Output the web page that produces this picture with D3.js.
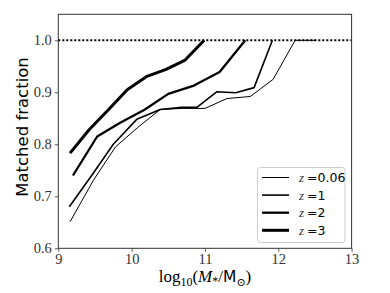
<!DOCTYPE html>
<html><head><meta charset="utf-8">
<script src="https://cdn.jsdelivr.net/npm/d3@7"></script>
<style>body{margin:0;background:#fff}svg{display:block}</style>
</head><body>
<svg id="c" width="390" height="293"></svg>
<script>
// Data
const seriesLabels = ["0.06", "1", "2", "3"];
const xTicks = [9, 10, 11, 12, 13];
const yTicks = [0.6, 0.7, 0.8, 0.9, 1.0];
const x_z006 = [9.16, 9.48, 9.78, 10.08, 10.39, 10.70, 11.00, 11.30, 11.62, 11.93, 12.23, 12.52];
const y_z006 = [0.651, 0.731, 0.795, 0.832, 0.867, 0.869, 0.869, 0.888, 0.892, 0.925, 1.0, 1.0];
const x_z1 = [9.15, 9.46, 9.75, 10.07, 10.39, 10.68, 10.89, 11.16, 11.42, 11.67, 11.92];
const y_z1 = [0.680, 0.741, 0.800, 0.848, 0.867, 0.871, 0.871, 0.901, 0.899, 0.909, 1.0];
const x_z2 = [9.20, 9.53, 9.85, 10.17, 10.50, 10.85, 11.20, 11.55];
const y_z2 = [0.740, 0.815, 0.842, 0.866, 0.897, 0.913, 0.939, 1.0];
const x_z3 = [9.16, 9.42, 9.68, 9.94, 10.20, 10.47, 10.73, 10.99];
const y_z3 = [0.783, 0.828, 0.866, 0.905, 0.930, 0.944, 0.962, 1.0];
const refLine = 1.0;

const xs = [x_z006, x_z1, x_z2, x_z3];
const ys = [y_z006, y_z1, y_z2, y_z3];
const widths = [1.0, 1.6, 2.3, 3.0];

const svg = d3.select("#c");
const L = 58.3, R = 351.6, T = 14.3, B = 248.3;
const x = d3.scaleLinear().domain([9, 13]).range([L, R]);
const y = d3.scaleLinear().domain([0.6, 1.05]).range([B, T]);

const serif = "'Liberation Serif','DejaVu Serif',serif";
const sans = "'DejaVu Sans','Noto Sans',sans-serif";

// axes
const xa = svg.append("g").attr("transform", `translate(0,${B})`)
  .call(d3.axisBottom(x).tickValues(xTicks).tickFormat(d3.format("d")).tickSize(3.5).tickSizeOuter(0).tickPadding(1.5));
const ya = svg.append("g").attr("transform", `translate(${L},0)`)
  .call(d3.axisLeft(y).tickValues(yTicks).tickFormat(d3.format(".1f")).tickSize(3.5).tickSizeOuter(0).tickPadding(3));
[xa, ya].forEach(g => {
  g.select(".domain").remove();
  g.selectAll("line").attr("stroke", "#333").attr("stroke-width", 0.8);
  g.selectAll("text").attr("font-family", serif).attr("font-size", 14.5).attr("fill", "#333");
});

// reference line
svg.append("line").attr("x1", x(9)).attr("x2", x(13)).attr("y1", y(refLine)).attr("y2", y(refLine))
  .attr("stroke", "#000").attr("stroke-width", 2).attr("stroke-dasharray", "2,2");

// series
const line = d3.line().x(d => x(d[0])).y(d => y(d[1]));
xs.forEach((xv, i) => {
  const pts = xv.map((v, j) => [v, ys[i][j]]);
  svg.append("path").datum(pts).attr("d", line).attr("fill", "none")
    .attr("stroke", "#000").attr("stroke-width", widths[i]).attr("stroke-linejoin", "round");
});

// frame
svg.append("rect").attr("x", L).attr("y", T).attr("width", R - L).attr("height", B - T)
  .attr("fill", "none").attr("stroke", "#333").attr("stroke-width", 1);

// legend
const lg = svg.append("g");
lg.append("rect").attr("x", 257.5).attr("y", 167.5).attr("width", 87.5).attr("height", 75).attr("rx", 3)
  .attr("fill", "#fff").attr("fill-opacity", 0.8).attr("stroke", "#ccc").attr("stroke-width", 1);
seriesLabels.forEach((lab, i) => {
  const yy = 177.5 + i * 17.6;
  lg.append("line").attr("x1", 262).attr("x2", 289).attr("y1", yy).attr("y2", yy)
    .attr("stroke", "#000").attr("stroke-width", widths[i]);
  const t = lg.append("text").attr("x", 299).attr("y", yy + 4.5).attr("font-size", 13);
  t.append("tspan").attr("font-family", serif).attr("font-style", "italic").attr("font-size", 13).attr("fill", "#333").text("z");
  t.append("tspan").attr("font-family", sans).attr("font-size", 12.5).attr("dx", 3).text("=" + lab);
});

// y label
svg.append("text").attr("transform", `translate(28,127) rotate(-90)`).attr("text-anchor", "middle")
  .attr("font-family", sans).attr("font-size", 16.5).text("Matched fraction");

// x label
const xl = svg.append("text").attr("x", 205).attr("y", 282).attr("text-anchor", "middle")
  .attr("font-family", serif).attr("font-size", 17);
xl.append("tspan").text("log");
xl.append("tspan").attr("font-size", 12).attr("dy", 3.5).text("10");
xl.append("tspan").attr("dy", -3.5).text("(");
xl.append("tspan").attr("font-style", "italic").text("M");
xl.append("tspan").attr("font-size", 12).attr("dy", 3).text("*");
xl.append("tspan").attr("dy", -3).text("/");
xl.append("tspan").attr("font-family", sans).attr("font-size", 15.5).text("M");
xl.append("tspan").attr("font-size", 11).attr("dy", 3.5).text("⊙");
xl.append("tspan").attr("dy", -3.5).text(")");
</script>
</body></html>
